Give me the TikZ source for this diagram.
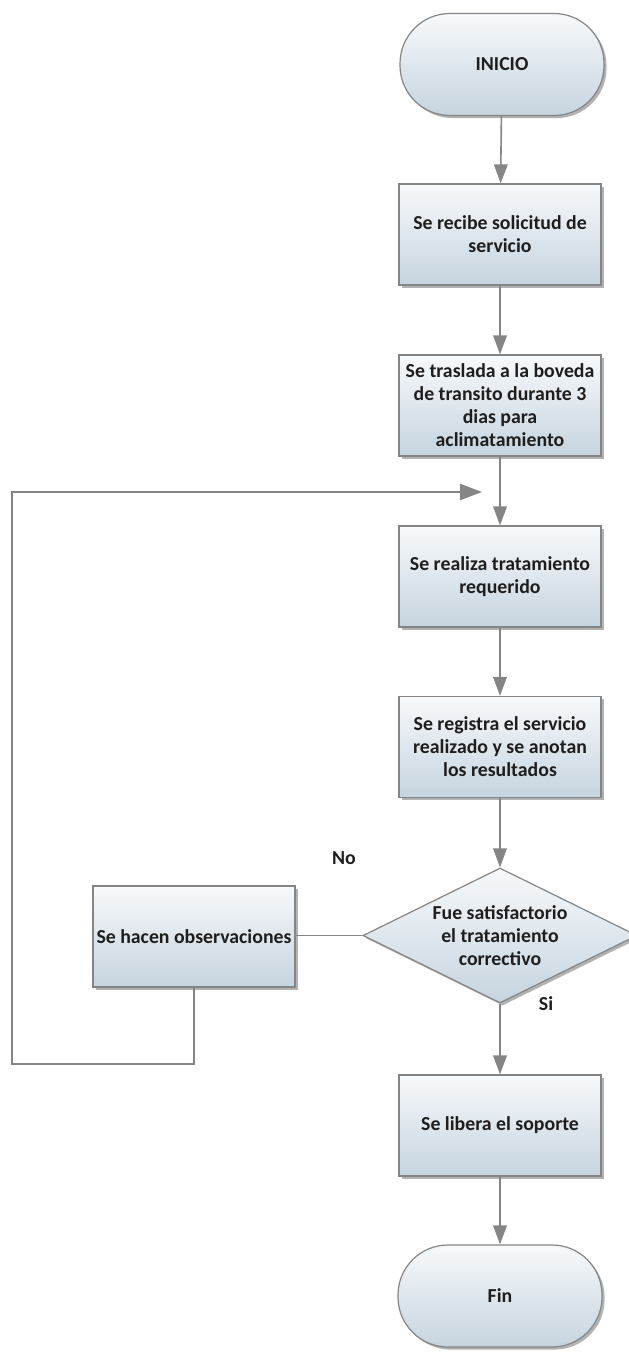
\documentclass[tikz,border=0pt]{standalone}
\usepackage{fontspec}
\setmainfont{Carlito}
\usepackage{tikz}
\usetikzlibrary{
    arrows.meta,
    shapes.geometric,
    shadows,
    positioning
}

\definecolor{boxtop}{HTML}{F7F9FB}
\definecolor{boxbottom}{HTML}{C6D4DF}
\definecolor{lineg}{HTML}{858585}
\definecolor{textg}{HTML}{1E1E1E}

\begin{document}
\begin{tikzpicture}[x=0.5pt, y=-0.5pt,
    font=\fontsize{9.9}{11.5}\selectfont\bfseries,
    base/.style={draw=lineg, line width=0.6pt, text=textg, align=center,
        top color=boxtop, bottom color=boxbottom,
        drop shadow={shadow xshift=1.3pt, shadow yshift=-1.3pt, opacity=0.3, fill=black}},
    proc/.style={base, rectangle, minimum width=101pt, minimum height=50.5pt, inner sep=1pt},
    term/.style={base, rectangle, rounded corners=25pt, minimum width=102pt, minimum height=51pt},
    decide/.style={base, diamond, aspect=2, inner sep=0pt, minimum width=137pt, minimum height=67.5pt},
    flow/.style={draw=lineg, line width=0.8pt, -{Triangle[width=6.8pt, length=9.5pt]}},
    loopflow/.style={draw=lineg, line width=1.1pt, -{Triangle[width=8pt, length=11pt]}},
    link/.style={draw=lineg, line width=0.8pt}
]
    \useasboundingbox (0,0) rectangle (628,1363);

    % main column
    \node[term] (inicio) at (502,64.5) {INICIO};
    \node[proc] (recibe) at (500,234.5) {Se recibe solicitud de\\servicio};
    \node[proc] (traslada) at (500,405.5) {Se traslada a la boveda\\de transito durante 3\\dias para\\aclimatamiento};
    \node[proc] (realiza) at (500,576.5) {Se realiza tratamiento\\requerido};
    \node[proc] (registra) at (500,747) {Se registra el servicio\\realizado y se anotan\\los resultados};
    \node[decide] (decision) at (500,935.5) {Fue satisfactorio\\el tratamiento\\correctivo};
    \node[proc] (libera) at (500,1125.5) {Se libera el soporte};
    \node[term] (fin) at (500,1296) {Fin};

    % side branch
    \node[proc] (observ) at (194,936.5) {Se hacen observaciones};
    \node[text=textg] (nolabel) at (344,858) {No};
    \node[text=textg] (silabel) at (546,1004) {Si};

    \coordinate (loopbot) at (12,1064);
    \coordinate (loopin) at (482,492);

    \draw[flow] (inicio) -- (recibe);
    \draw[flow] (recibe) -- (traslada);
    \draw[link] (traslada) -- (realiza.north |- loopin);
    \draw[flow] (realiza.north |- loopin) -- (realiza);
    \draw[flow] (realiza) -- (registra);
    \draw[flow] (registra) -- (decision);
    \draw[flow] (decision) -- (libera);
    \draw[flow] (libera) -- (fin);
    \draw[link] (decision.west) -- (observ.east |- decision.west);
    \draw[loopflow] (observ.south) |- (loopbot) |- (loopin);
\end{tikzpicture}
\end{document}
